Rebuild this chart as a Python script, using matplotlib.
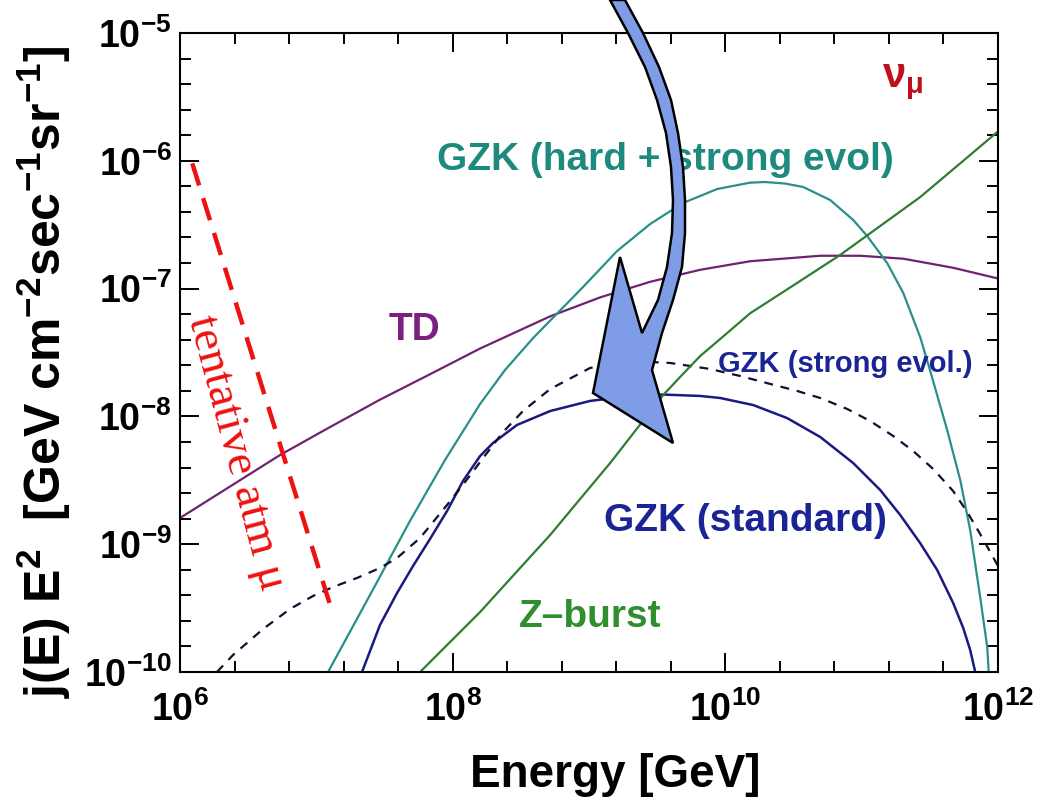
import numpy as np
import matplotlib
matplotlib.use('Agg')
import matplotlib.pyplot as plt
from matplotlib.patches import Polygon
from matplotlib.ticker import FixedLocator, NullFormatter

# neutrino flux models, log10(E/GeV) vs log10(E^2 j(E))
td_logE = [6.0, 6.734, 7.101, 7.467, 7.834, 8.201, 8.715, 9.081, 9.448, 9.815, 10.182,
           10.696, 10.989, 11.305, 11.671, 12.0]
td_logF = [-8.795, -8.302, -8.083, -7.869, -7.670, -7.469, -7.217, -7.069, -6.947, -6.853,
           -6.786, -6.743, -6.743, -6.766, -6.837, -6.921]

hard_logE = [7.086, 7.394, 7.687, 7.944, 8.201, 8.384, 8.590, 8.957, 9.206, 9.448, 9.690, 9.940,
             10.182, 10.292, 10.439, 10.571, 10.769, 10.938, 11.040, 11.187, 11.305, 11.429,
             11.503, 11.627, 11.723, 11.796, 11.869, 11.921, 11.935]
hard_logF = [-10.0, -9.397, -8.818, -8.341, -7.903, -7.637, -7.387, -6.987, -6.706, -6.495, -6.330,
             -6.221, -6.171, -6.166, -6.178, -6.205, -6.307, -6.463, -6.588, -6.800, -7.034, -7.379,
             -7.645, -8.106, -8.498, -8.889, -9.413, -9.804, -10.06]

std_logE = [7.335, 7.467, 7.592, 7.709, 7.834, 7.959, 8.076, 8.201, 8.296, 8.472, 8.715, 9.008,
            9.302, 9.544, 9.815, 9.962, 10.204, 10.453, 10.696, 10.938, 11.136, 11.283, 11.429,
            11.554, 11.671, 11.745, 11.796, 11.833]
std_logF = [-10.0, -9.632, -9.382, -9.171, -8.959, -8.740, -8.505, -8.310, -8.208, -8.067, -7.958,
            -7.879, -7.840, -7.829, -7.840, -7.856, -7.911, -8.013, -8.161, -8.365, -8.576, -8.772,
            -8.991, -9.202, -9.460, -9.656, -9.828, -10.0]

strong_logE = [6.271, 6.389, 6.609, 6.807, 6.976, 7.123, 7.299, 7.467, 7.592, 7.761, 7.959, 8.091,
               8.223, 8.370, 8.516, 8.715, 9.008, 9.302, 9.595, 9.888, 10.109, 10.329, 10.527,
               10.696, 10.894, 11.062, 11.231, 11.378, 11.525, 11.671, 11.774, 11.869, 11.943, 12.0]
strong_logF = [-10.0, -9.867, -9.664, -9.507, -9.405, -9.335, -9.264, -9.186, -9.108, -8.951, -8.693,
               -8.513, -8.326, -8.122, -7.958, -7.786, -7.621, -7.566, -7.582, -7.629, -7.684, -7.746,
               -7.801, -7.856, -7.942, -8.036, -8.153, -8.271, -8.412, -8.584, -8.748, -8.920,
               -9.061, -9.171]

zb_logE = [7.761, 8.201, 8.458, 8.715, 8.935, 9.155, 9.353, 9.544, 9.668, 9.815, 9.999, 10.182,
           10.512, 10.842, 11.136, 11.429, 11.723, 12.0]
zb_logF = [-10.0, -9.531, -9.229, -8.928, -8.646, -8.365, -8.094, -7.833, -7.692, -7.528, -7.361,
           -7.193, -6.966, -6.737, -6.510, -6.284, -6.020, -5.770]

atm_logE = [6.09, 7.12]
atm_logF = [-6.02, -9.54]

# curved pointer drawn over the figure, in pixels
pointer_px = [(610, 0), (628, 33), (645, 67), (657, 100), (666, 133), (671, 167), (673, 200),
              (672, 233), (667, 267), (658, 300), (642, 333), (620, 257), (593, 393), (673, 443),
              (652, 370), (662, 333), (673, 300), (682, 267), (685, 233), (685, 200), (683, 167),
              (678, 133), (671, 100), (659, 67), (643, 33), (625, 0)]

plt.rcParams['font.family'] = 'Liberation Sans'
plt.rcParams['font.weight'] = 'bold'
plt.rcParams['mathtext.fontset'] = 'custom'
plt.rcParams['mathtext.rm'] = 'Liberation Sans:bold'
plt.rcParams['mathtext.default'] = 'regular'

W, H = 1054, 797
fig = plt.figure(figsize=(W / 100, H / 100), dpi=100)
ax = fig.add_axes([180 / W, 1 - 672 / H, 818 / W, 639 / H])


def pw(v):
    return 10 ** np.asarray(v)


ax.plot(pw(td_logE), pw(td_logF), color='#6e2270', lw=1.6)
ax.plot(pw(hard_logE), pw(hard_logF), color='#2a8f8a', lw=1.6)
ax.plot(pw(std_logE), pw(std_logF), color='#1a1a80', lw=1.8)
ax.plot(pw(strong_logE), pw(strong_logF), color='#101030', lw=1.6, dashes=(4, 3.5))
ax.plot(pw(zb_logE), pw(zb_logF), color='#2e7d32', lw=1.6)
ax.plot(pw(atm_logE), pw(atm_logF), color='#ee1111', lw=3.2, dashes=(5.2, 3.0))

ax.set_xscale('log')
ax.set_yscale('log')
ax.set_xlim(1e6, 1e12)
ax.set_ylim(1e-10, 1e-5)

ax.xaxis.set_major_locator(FixedLocator([1e6, 1e8, 1e10, 1e12]))
ax.xaxis.set_minor_locator(FixedLocator(10 ** np.arange(6, 12.01, 0.4)))
ax.yaxis.set_major_locator(FixedLocator(10.0 ** np.arange(-10, -4)))
ax.yaxis.set_minor_locator(FixedLocator(10 ** np.arange(-10, -4.99, 0.2)))
ax.xaxis.set_minor_formatter(NullFormatter())
ax.yaxis.set_minor_formatter(NullFormatter())
ax.tick_params(which='both', direction='in', top=True, right=True, width=1.4, labelsize=27)
ax.tick_params(which='major', length=14)
ax.tick_params(which='minor', length=8)
ax.tick_params(axis='x', pad=14)
ax.tick_params(axis='y', pad=6)
for s in ax.spines.values():
    s.set_linewidth(1.5)

# curve labels
ax.text(pw(9.56), pw(-6.07), 'GZK (hard + strong evol)', color='#1e8a7e', fontsize=28,
        ha='center', va='baseline')
ax.text(pw(7.72), pw(-7.40), 'TD', color='#7b1f80', fontsize=28, ha='center', va='baseline')
ax.text(pw(10.88), pw(-7.65), 'GZK (strong evol.)', color='#1b2494', fontsize=21,
        ha='center', va='baseline')
ax.text(pw(10.15), pw(-8.90), 'GZK (standard)', color='#1b2494', fontsize=28,
        ha='center', va='baseline')
ax.text(pw(9.01), pw(-9.65), 'Z\u2013burst', color='#2f8f2f', fontsize=28, ha='center', va='baseline')
ax.text(pw(11.30), pw(-5.38), r'$\nu_\mu$', color='#c0101c', fontsize=30, ha='center', va='center')
ax.text(pw(6.41), pw(-8.29), 'tentative atm \u03bc', color='#ee1111', fontsize=34,
        family='Liberation Serif', fontweight='normal', rotation=-75,
        rotation_mode='anchor', ha='center', va='center')

fig.text(615 / W, 1 - 787 / H, 'Energy [GeV]', fontsize=33, ha='center', va='baseline')
fig.text(44 / W, 1 - 372 / H, r'j(E) E$^2$  [GeV cm$^{-2}$sec$^{-1}$sr$^{-1}$]', fontsize=36,
         rotation=90, ha='center', va='center')

over = fig.add_axes([0, 0, 1, 1], zorder=5)
over.set_xlim(0, W)
over.set_ylim(H, 0)
over.axis('off')
over.add_patch(Polygon(pointer_px, closed=True, facecolor='#7f9de6', edgecolor='black', lw=1.8))

fig.savefig('out.png', dpi=100)
